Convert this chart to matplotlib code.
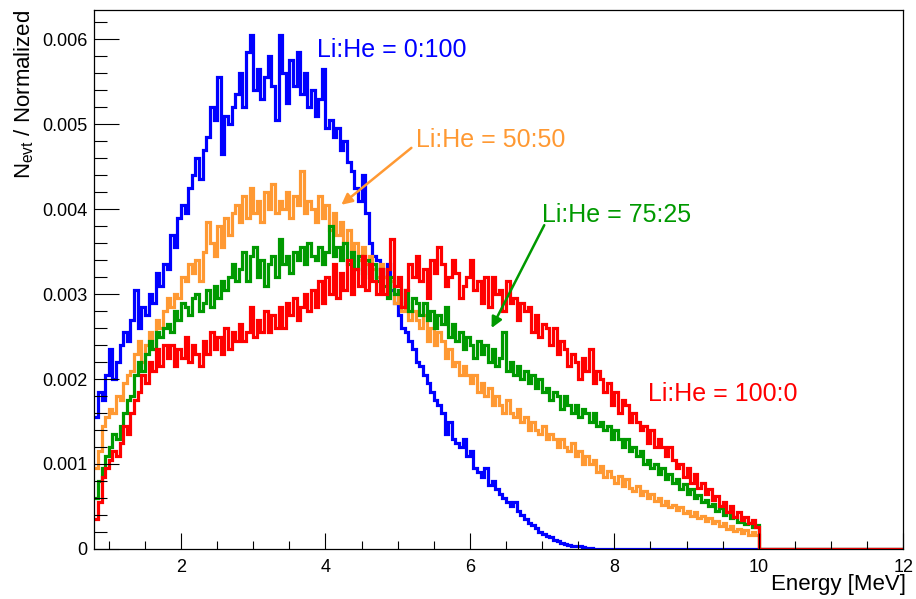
"""
Normalized energy spectra for four Li:He mixing ratios (ROOT-style histogram).
"""

import matplotlib
matplotlib.use("Agg")
import matplotlib.pyplot as plt
import numpy as np
from matplotlib.ticker import MultipleLocator, FuncFormatter

plt.rcParams["font.family"] = ["Liberation Sans", "DejaVu Sans"]
plt.rcParams["mathtext.default"] = "regular"

# --- Data ------------------------------------------------------------------
# 0.05 MeV bins starting at 0.8 MeV, values in units of 1e-3 (per bin)
BIN_START = 0.8
BIN_WIDTH = 0.05
X_MAX = 12.0

blue_0_100 = [
    1.55, 1.85, 1.75, 2.05, 2.35, 2.00, 2.20, 2.40, 2.55, 2.45,
    2.70, 3.05, 2.60, 2.85, 2.75, 3.00, 2.90, 3.25, 3.10, 3.35,
    3.30, 3.70, 3.55, 3.90, 4.05, 3.95, 4.25, 4.40, 4.60, 4.35,
    4.70, 4.85, 5.20, 5.05, 5.55, 4.65, 5.10, 5.00, 5.20, 5.35,
    5.60, 5.20, 5.85, 6.05, 5.40, 5.65, 5.30, 5.55, 5.80, 5.45,
    5.05, 6.05, 5.60, 5.25, 5.75, 5.45, 5.85, 5.35, 5.60, 5.20,
    5.40, 5.10, 5.30, 5.65, 4.95, 5.05, 4.85, 4.95, 4.70, 4.80,
    4.55, 4.45, 4.25, 4.10, 4.40, 3.95, 3.60, 3.45, 3.40, 3.30,
    3.20, 3.35, 3.05, 2.90, 2.75, 2.60, 2.55, 2.45, 2.35, 2.20,
    2.15, 2.05, 1.95, 1.85, 1.75, 1.70, 1.60, 1.35, 1.50, 1.30,
    1.25, 1.20, 1.30, 1.10, 1.15, 0.95, 0.90, 0.85, 0.95, 0.75,
    0.80, 0.70, 0.65, 0.60, 0.55, 0.50, 0.55, 0.45, 0.40, 0.35,
    0.30, 0.28, 0.25, 0.20, 0.18, 0.15, 0.14, 0.10, 0.09, 0.07,
    0.06, 0.05, 0.04, 0.03, 0.03, 0.02, 0.015, 0.01,
]

orange_50_50 = [
    0.95, 1.15, 1.45, 1.55, 1.65, 1.60, 1.80, 1.75, 1.95, 2.05,
    2.10, 2.30, 2.45, 2.20, 2.40, 2.55, 2.35, 2.70, 2.60, 2.80,
    2.95, 2.85, 3.00, 2.95, 3.20, 3.15, 3.35, 3.25, 3.40, 3.15,
    3.50, 3.85, 3.60, 3.45, 3.80, 3.55, 3.90, 3.70, 3.95, 4.05,
    3.85, 4.15, 3.90, 4.25, 3.95, 4.10, 3.85, 4.20, 4.00, 4.30,
    3.95, 4.10, 4.00, 4.20, 3.90, 4.15, 4.05, 4.45, 3.95, 4.10,
    4.00, 3.85, 4.15, 3.90, 4.05, 3.75, 3.95, 3.70, 3.85, 3.60,
    3.75, 3.50, 3.60, 3.40, 3.55, 3.35, 3.45, 3.30, 3.20, 3.35,
    3.20, 3.00, 3.15, 2.90, 3.00, 2.80, 2.90, 2.70, 2.80, 2.70,
    2.60, 2.75, 2.45, 2.60, 2.40, 2.55, 2.45, 2.25, 2.35, 2.15,
    2.20, 2.05, 2.15, 2.05, 1.95, 2.05, 1.85, 1.95, 1.80, 1.90,
    1.70, 1.80, 1.70, 1.60, 1.75, 1.60, 1.55, 1.65, 1.50, 1.55,
    1.40, 1.50, 1.40, 1.35, 1.45, 1.30, 1.35, 1.30, 1.20, 1.30,
    1.20, 1.15, 1.25, 1.10, 1.15, 1.00, 1.10, 1.00, 1.05, 0.90,
    0.98, 0.85, 0.92, 0.85, 0.78, 0.86, 0.74, 0.82, 0.72, 0.68,
    0.74, 0.64, 0.68, 0.60, 0.65, 0.56, 0.60, 0.52, 0.57, 0.49,
    0.52, 0.46, 0.49, 0.42, 0.45, 0.39, 0.43, 0.36, 0.39, 0.33,
    0.36, 0.30, 0.33, 0.27, 0.30, 0.24, 0.27, 0.21, 0.24, 0.19,
    0.22, 0.17, 0.20, 0.16,
]

green_75_25 = [
    0.60, 0.80, 0.95, 1.10, 1.20, 1.35, 1.30, 1.45, 1.60, 1.75,
    1.80, 2.05, 2.20, 2.10, 2.30, 2.45, 2.35, 2.55, 2.50, 2.60,
    2.65, 2.55, 2.80, 2.70, 2.90, 2.85, 2.75, 2.95, 3.00, 2.80,
    2.90, 3.05, 2.85, 3.10, 2.95, 3.15, 3.05, 3.20, 3.35, 3.15,
    3.30, 3.50, 3.15, 3.45, 3.55, 3.20, 3.40, 3.10, 3.35, 3.45,
    3.20, 3.65, 3.35, 3.45, 3.25, 3.50, 3.40, 3.55, 3.35, 3.60,
    3.45, 3.40, 3.55, 3.35, 3.50, 3.80, 3.45, 3.55, 3.40, 3.60,
    3.35, 3.50, 3.30, 3.45, 3.25, 3.40, 3.20, 3.35, 3.15, 3.30,
    3.10, 2.95, 3.20, 3.00, 3.05, 2.85, 3.05, 2.80, 2.95, 2.90,
    2.75, 2.90, 2.70, 2.80, 2.60, 2.75, 2.65, 2.85, 2.50, 2.65,
    2.45, 2.55, 2.35, 2.50, 2.40, 2.25, 2.45, 2.30, 2.40, 2.20,
    2.35, 2.15, 2.25, 2.55, 2.10, 2.20, 2.05, 2.15, 2.00, 2.10,
    1.95, 2.05, 1.90, 2.00, 1.85, 1.90, 1.75, 1.85, 1.80, 1.65,
    1.80, 1.70, 1.60, 1.70, 1.55, 1.65, 1.60, 1.50, 1.60, 1.45,
    1.50, 1.40, 1.45, 1.30, 1.40, 1.30, 1.20, 1.30, 1.15, 1.20,
    1.10, 1.15, 1.00, 1.05, 0.95, 1.00, 0.88, 0.95, 0.82, 0.88,
    0.78, 0.82, 0.70, 0.76, 0.65, 0.70, 0.60, 0.64, 0.55, 0.58,
    0.50, 0.53, 0.45, 0.48, 0.40, 0.43, 0.36, 0.38, 0.32, 0.34,
    0.29, 0.31, 0.26, 0.28,
]

red_100_0 = [
    0.35, 0.55, 0.85, 0.95, 1.05, 1.15, 1.10, 1.25, 1.45, 1.35,
    1.60, 1.75, 1.85, 2.05, 1.95, 2.20, 2.10, 2.35, 2.15, 2.40,
    2.25, 2.40, 2.15, 2.35, 2.25, 2.50, 2.20, 2.40, 2.30, 2.15,
    2.45, 2.30, 2.55, 2.35, 2.50, 2.30, 2.60, 2.35, 2.55, 2.45,
    2.65, 2.45, 2.55, 2.85, 2.50, 2.70, 2.55, 2.80, 2.55, 2.75,
    2.60, 2.85, 2.60, 2.90, 2.75, 2.95, 2.70, 2.85, 3.00, 2.80,
    3.05, 2.85, 3.15, 2.90, 3.20, 3.00, 3.35, 2.95, 3.25, 3.05,
    3.40, 3.00, 3.30, 3.10, 3.45, 3.05, 3.35, 3.15, 3.00, 3.30,
    3.00, 3.30, 3.65, 3.10, 3.20, 2.85, 3.05, 3.35, 3.20, 3.45,
    3.15, 3.30, 2.95, 3.40, 3.25, 3.55, 3.35, 3.10, 3.20, 3.40,
    3.25, 2.95, 3.10, 3.20, 3.40, 3.05, 3.15, 2.90, 3.20, 2.85,
    3.20, 3.00, 3.05, 2.80, 3.15, 2.90, 2.95, 2.70, 2.90, 2.80,
    2.85, 2.55, 2.75, 2.50, 2.65, 2.60, 2.40, 2.60, 2.30, 2.45,
    2.35, 2.15, 2.30, 2.20, 2.00, 2.25, 2.10, 2.35, 1.95, 2.10,
    2.00, 1.85, 1.95, 1.70, 1.85, 1.60, 1.75, 1.70, 1.50, 1.60,
    1.50, 1.40, 1.45, 1.25, 1.40, 1.20, 1.30, 1.20, 1.10, 1.20,
    1.05, 0.95, 1.00, 0.85, 0.95, 0.78, 0.88, 0.72, 0.78, 0.65,
    0.70, 0.58, 0.62, 0.50, 0.55, 0.44, 0.50, 0.38, 0.44, 0.34,
    0.38, 0.30, 0.34, 0.26,
]

labels = ["Li:He = 0:100", "Li:He = 50:50", "Li:He = 75:25", "Li:He = 100:0"]
colors = ["#0000ff", "#ff9933", "#009900", "#ff0000"]


def to_hist(values):
    """Pad a spectrum with empty bins up to X_MAX and convert to real units."""
    n_total = int(round((X_MAX - BIN_START) / BIN_WIDTH))
    counts = np.zeros(n_total)
    counts[:len(values)] = values
    edges = BIN_START + BIN_WIDTH * np.arange(n_total + 1)
    return counts * 1e-3, edges


# --- Chart -----------------------------------------------------------------

fig = plt.figure(figsize=(9.16, 5.99), dpi=100)
ax = fig.add_axes([0.103, 0.0835, 0.883, 0.8995])

for values, color in zip([blue_0_100, orange_50_50, green_75_25, red_100_0], colors):
    counts, edges = to_hist(values)
    ax.stairs(counts, edges, color=color, lw=2.3, baseline=None)

ax.set_xlim(BIN_START, X_MAX)
ax.set_ylim(0, 0.00634)

ax.xaxis.set_major_locator(MultipleLocator(2))
ax.xaxis.set_minor_locator(MultipleLocator(0.5))
ax.yaxis.set_major_locator(MultipleLocator(0.001))
ax.yaxis.set_minor_locator(MultipleLocator(0.0002))
ax.yaxis.set_major_formatter(FuncFormatter(lambda v, _: "0" if v == 0 else f"{v:.3f}"))

ax.tick_params(axis="both", which="both", direction="in", width=0.8,
               labelsize=13, top=False, right=False)
ax.tick_params(axis="x", which="major", length=11.5, pad=7)
ax.tick_params(axis="x", which="minor", length=5.8)
ax.tick_params(axis="y", which="major", length=18, pad=5)
ax.tick_params(axis="y", which="minor", length=9)
for spine in ax.spines.values():
    spine.set_linewidth(0.9)

ax.set_xlabel("Energy [MeV]", fontsize=16, ha="right")
ax.xaxis.set_label_coords(1.003, -0.046)
ax.set_ylabel("N$_{evt}$ / Normalized", fontsize=16, loc="top", labelpad=4)

# Curve labels
ax.text(3.89, 0.00587, labels[0], color=colors[0], fontsize=18, va="center")
ax.text(5.25, 0.00481, labels[1], color=colors[1], fontsize=18, va="center")
ax.text(7.00, 0.00393, labels[2], color=colors[2], fontsize=18, va="center")
ax.text(8.47, 0.00182, labels[3], color=colors[3], fontsize=18, va="center")

ax.annotate("", xy=(4.22, 0.00405), xytext=(5.19, 0.00472),
            arrowprops=dict(arrowstyle="-|>", color=colors[1], lw=1.8,
                            mutation_scale=16, shrinkA=0, shrinkB=0))
ax.annotate("", xy=(6.30, 0.00260), xytext=(7.03, 0.00381),
            arrowprops=dict(arrowstyle="-|>", color=colors[2], lw=1.8,
                            mutation_scale=16, shrinkA=0, shrinkB=0))

fig.savefig("out.png", dpi=100)
